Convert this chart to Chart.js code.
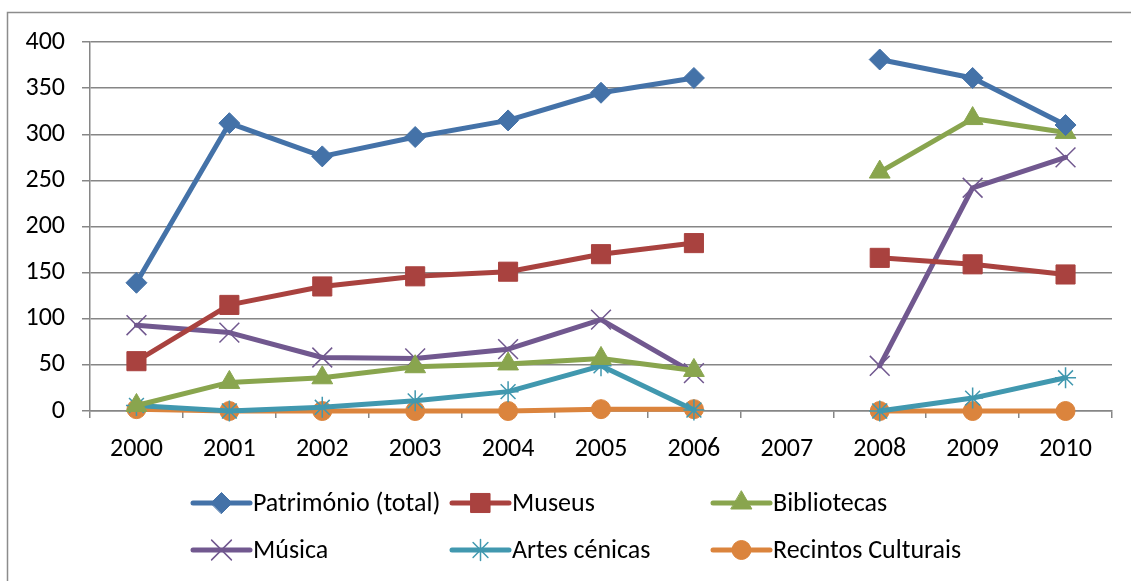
<!DOCTYPE html>
<html>
<head>
<meta charset="utf-8">
<script src="https://cdn.jsdelivr.net/npm/chart.js@4.4.1/dist/chart.umd.min.js"></script>
<style>
html,body{margin:0;padding:0;background:#fff;}
#wrap{position:relative;width:1131px;height:581px;}
</style>
</head>
<body>
<div id="wrap"><canvas id="c" width="1131" height="581"></canvas></div>
<script>
const categories = ['2000','2001','2002','2003','2004','2005','2006','2007','2008','2009','2010'];
const patrimonio = [139, 312, 276, 297, 315, 345, 361, null, 381, 361, 310];
const museus     = [54, 115, 135, 146, 151, 170, 182, null, 166, 159, 148];
const bibliotecas= [6, 31, 36, 48, 51, 57, 44, null, 259, 317, 302];
const musica     = [93, 85, 58, 57, 67, 99, 41, null, 49, 242, 275];
const artes      = [6, 0, 4, 11, 21, 49, 1, null, 0, 14, 36];
const recintos   = [2, 0, 0, 0, 0, 2, 2, null, 0, 0, 0];
const yTicks = [0, 50, 100, 150, 200, 250, 300, 350, 400];

const FONT = 'Carlito, Lato, "Liberation Sans", sans-serif';

function ds(label, data, color, style, radius, bw){
  return {label, data, borderColor: color, backgroundColor: color,
    pointBackgroundColor: color, pointBorderColor: color,
    pointStyle: style, pointRadius: radius, pointBorderWidth: bw,
    borderWidth: 5, borderJoinStyle: 'round', borderCapStyle: 'round',
    tension: 0, spanGaps: false, clip: false};
}
const datasets = [
  ds('Património (total)', patrimonio, '#4472A8', 'rectRot', 10.5, 1),
  ds('Museus', museus, '#A9423F', 'rect', 13.5, 1),
  ds('Bibliotecas', bibliotecas, '#89A54E', 'triangle', 12, 1),
  ds('Música', musica, '#71588F', 'crossRot', 14, 1.5),
  ds('Artes cénicas', artes, '#4198AF', 'star', 10.5, 1.5),
  ds('Recintos Culturais', recintos, '#DB843D', 'circle', 9.5, 1)
];

const gridLegend = {
  id: 'gridLegend',
  afterDraw(chart){
    const ctx = chart.ctx;
    ctx.save();
    // outer border
    ctx.strokeStyle = '#8c8c8c';
    ctx.lineWidth = 1.5;
    ctx.strokeRect(7.5, 12.5, 1140, 600);
    const cols = [193, 452, 713];
    const rows = [503, 550];
    chart.data.datasets.forEach((d, i) => {
      const x = cols[i % 3], y = rows[Math.floor(i / 3)];
      ctx.strokeStyle = d.borderColor;
      ctx.lineWidth = 5;
      ctx.lineCap = 'round';
      ctx.beginPath(); ctx.moveTo(x, y); ctx.lineTo(x + 57, y); ctx.stroke();
      ctx.fillStyle = d.borderColor;
      ctx.strokeStyle = d.borderColor;
      ctx.lineWidth = d.pointBorderWidth;
      Chart.helpers.drawPoint(ctx, {pointStyle: d.pointStyle, radius: d.pointRadius,
        borderWidth: d.pointBorderWidth, rotation: 0}, x + 28.5, y);
      ctx.fillStyle = '#000';
      ctx.font = '26px ' + FONT;
      ctx.textBaseline = 'middle';
      ctx.textAlign = 'left';
      ctx.fillText(d.label, x + 60, y + 1);
    });
    ctx.restore();
  }
};

new Chart(document.getElementById('c'), {
  type: 'line',
  data: {labels: categories, datasets},
  options: {
    responsive: false,
    animation: false,
    layout: {padding: {left: 0, top: 42, right: 19, bottom: 0}},
    plugins: {legend: {display: false}, tooltip: {enabled: false}},
    scales: {
      x: {
        offset: true,
        grid: {display: true, drawOnChartArea: false, offset: true, color: '#868686', lineWidth: 1.5, tickLength: 7, tickColor: '#868686'},
        border: {display: true, color: '#868686', width: 1.5},
        ticks: {color: '#000', font: {family: FONT, size: 26}, padding: 16, maxRotation: 0, autoSkip: false},
        afterFit(s){ s.height = 170; }
      },
      y: {
        min: 0, max: 400,
        afterBuildTicks(s){ s.ticks = yTicks.map(v => ({value: v})); },
        grid: {color: '#868686', lineWidth: 1.5, tickLength: 8, tickColor: '#868686'},
        border: {display: true, color: '#868686', width: 1.5},
        ticks: {color: '#000', font: {family: FONT, size: 26}, padding: 17},
        afterFit(s){ s.width = 90; }
      }
    }
  },
  plugins: [gridLegend]
});
</script>
</body>
</html>
